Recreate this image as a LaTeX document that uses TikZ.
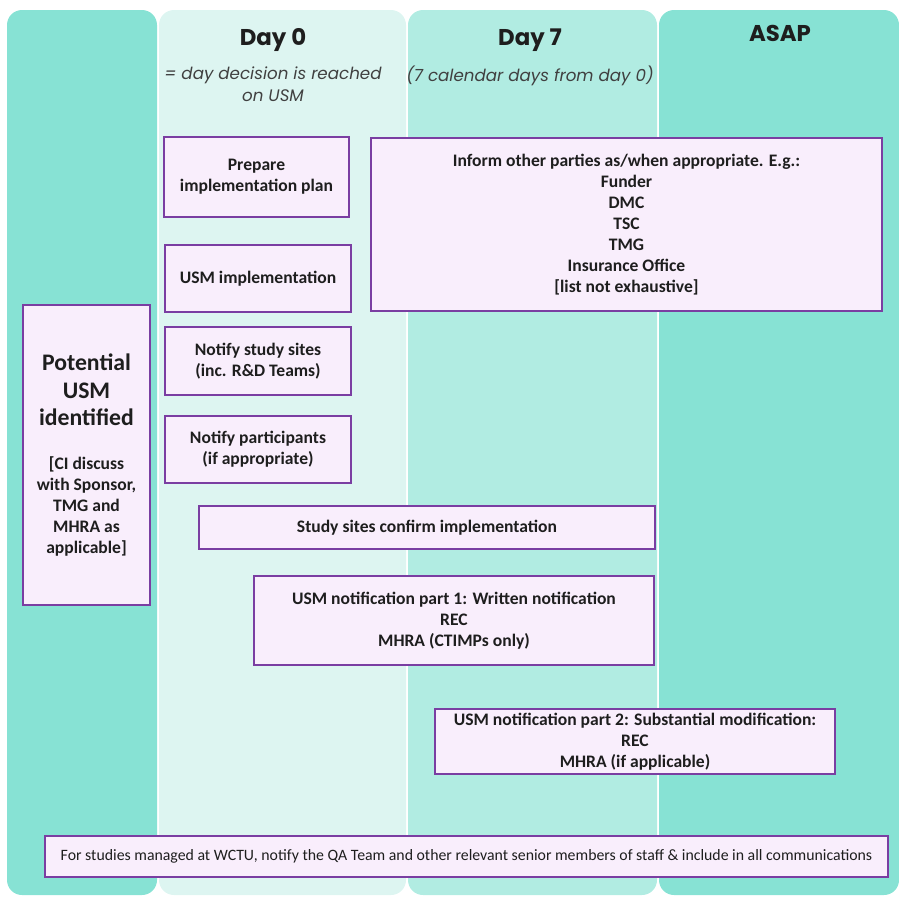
\documentclass[tikz,border=0pt]{standalone}
\usepackage{fontspec}
\setmainfont{Carlito}
\newfontfamily\headfont{Poppins}
\usetikzlibrary{positioning}
\definecolor{lanedark}{RGB}{135,226,212}
\definecolor{laneday0}{RGB}{221,245,241}
\definecolor{laneday7}{RGB}{177,236,226}
\definecolor{boxfill}{RGB}{249,238,252}
\definecolor{boxline}{RGB}{122,62,162}
\definecolor{textdark}{RGB}{30,30,30}
\newcommand\bigsz{\fontsize{13.5}{16}\selectfont}
\tikzset{
  % Timeline lane
  lane/.style={rounded corners=0.3cm},
  % Action box
  action/.style={
    rectangle, fill=boxfill, draw=boxline, line width=1.1pt,
    text=textdark, font=\bfseries\fontsize{10}{12}\selectfont,
    align=center, inner sep=2pt
  },
  % Lane heading
  heading/.style={
    text=textdark, font=\headfont\bfseries\fontsize{13}{15}\selectfont,
    align=center
  },
  % Lane sub-heading
  subheading/.style={
    text=textdark!85, font=\headfont\itshape\fontsize{9.5}{12.5}\selectfont,
    align=center
  },
}

\begin{document}
\begin{tikzpicture}
\useasboundingbox (0,0) rectangle (17.98,-17.94);

%% ── LANES ────────────────────────────────────────────────────────────────

\fill[lane, lanedark] (0.14,-0.2) rectangle (3.14,-17.9);
\fill[lane, laneday0] (3.18,-0.2) rectangle (8.12,-17.9);
\fill[lane, laneday7] (8.16,-0.2) rectangle (13.14,-17.9);
\fill[lane, lanedark] (13.18,-0.2) rectangle (17.98,-17.9);

%% ── HEADINGS ─────────────────────────────────────────────────────────────

\node[heading] (day0) at (5.46,-0.8) {Day 0};
\node[subheading, below=0.05cm of day0] (day0sub)
  {= day decision is reached\\on USM};
\node[heading] (day7) at (10.6,-0.8) {Day 7};
\node[subheading, below=0.05cm of day7] (day7sub)
  {(7 calendar days from day 0)};
\node[heading] (asap) at (15.6,-0.66) {ASAP};

%% ── DAY 0 ACTIONS ────────────────────────────────────────────────────────

\node[action, minimum width=2.54cm, minimum height=6cm] (identified) at (1.73,-9.1)
  {\bigsz Potential\\[0.13cm]\bigsz USM\\[0.13cm]\bigsz identified\\[0.45cm]
   {[}CI discuss\\with Sponsor,\\TMG and\\MHRA as\\applicable{]}};

\node[action, minimum width=3.7cm, minimum height=1.6cm] (plan) at (5.13,-3.54)
  {Prepare\\implementation plan};

\node[action, minimum width=3.72cm, minimum height=1.34cm] (implement) at (5.16,-5.57)
  {USM implementation};

\node[action, minimum width=3.72cm, minimum height=1.36cm] (sites) at (5.16,-7.22)
  {Notify study sites\\(inc. R\&D Teams)};

\node[action, minimum width=3.72cm, minimum height=1.34cm] (participants) at (5.16,-8.99)
  {Notify participants\\(if appropriate)};

%% ── LATER ACTIONS ────────────────────────────────────────────────────────

\node[action, minimum width=10.22cm, minimum height=3.46cm] (inform) at (12.53,-4.49)
  {Inform other parties as/when appropriate. E.g.:\\Funder\\DMC\\TSC\\TMG\\Insurance Office\\{[}list not exhaustive{]}};

\node[action, minimum width=9.12cm, minimum height=0.86cm] (confirm) at (8.54,-10.55)
  {Study sites confirm implementation};

\node[action, minimum width=8cm, minimum height=1.78cm] (notifya) at (9.08,-12.41)
  {USM notification part 1: Written notification\\REC\\MHRA (CTIMPs only)};

\node[action, minimum width=8cm, minimum height=1.26cm] (notifyb) at (12.7,-14.83)
  {USM notification part 2: Substantial modification:\\REC\\MHRA (if applicable)};

%% ── FOOTER ───────────────────────────────────────────────────────────────

\node[action, font=\fontsize{9}{11}\selectfont, minimum width=16.86cm, minimum height=0.82cm] (wctu) at (9.33,-17.13)
  {For studies managed at WCTU, notify the QA Team and other relevant senior members of staff \& include in all communications};

\end{tikzpicture}
\end{document}
